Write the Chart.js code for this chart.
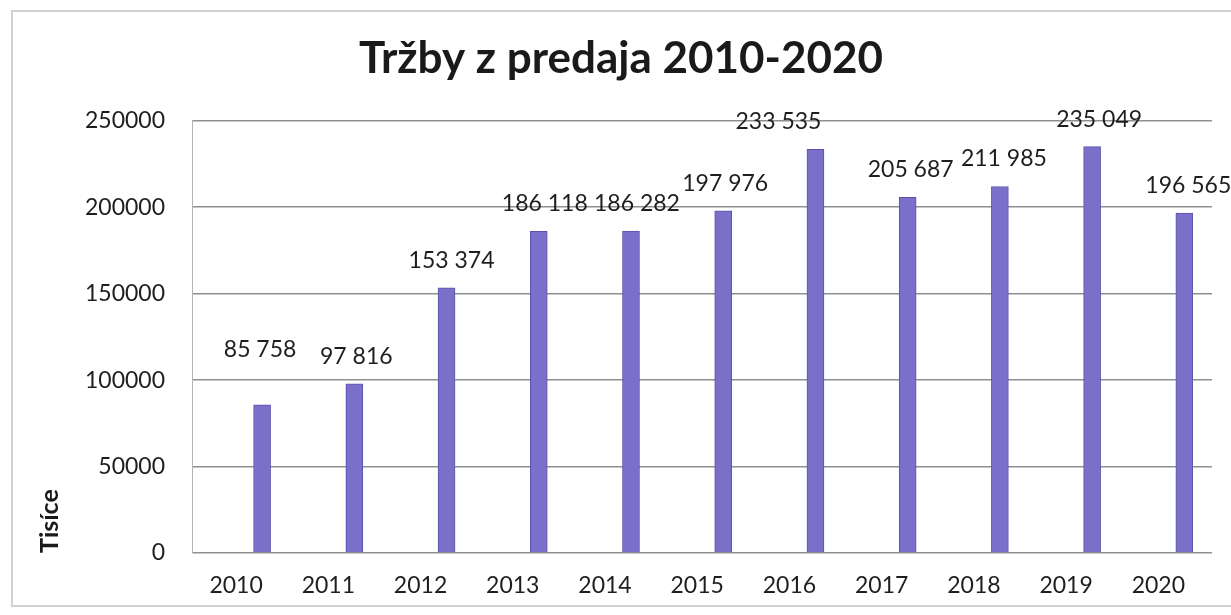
<!DOCTYPE html>
<html>
<head>
<meta charset="utf-8">
<script src="https://cdn.jsdelivr.net/npm/chart.js@4.4.1/dist/chart.umd.min.js"></script>
<style>
  html, body { margin: 0; padding: 0; background: #fff; }
  #wrap { position: relative; width: 1231px; height: 615px; overflow: hidden; }
  #frame { position: absolute; left: 11px; top: 10px; width: 1300px; height: 597px;
    border: 2px solid #d2d2d2; box-sizing: border-box; pointer-events: none; }
</style>
</head>
<body>
<div id="wrap">
  <canvas id="c" width="1231" height="615"></canvas>
  <div id="frame"></div>
</div>
<script>
// Tržby z predaja 2010-2020 (tisíce EUR)
const YEARS = [2010, 2011, 2012, 2013, 2014, 2015, 2016, 2017, 2018, 2019, 2020];
const SALES = [85758, 97816, 153374, 186118, 186282, 197976, 233535, 205687, 211985, 235049, 196565];
const Y_TICKS = [0, 50000, 100000, 150000, 200000, 250000];

// hand-moved labels in the original: pixel nudges [dx, dy]
const NUDGE = [[-2, -28], [2, 0], [5, 0], [6, 0], [6, 0], [2, 0], [-37, 0], [3, 0], [4, 0], [7, 0], [4, 0]];

const FONT = "Lato, 'Open Sans', sans-serif";
const fmt = (n) => String(n).replace(/\B(?=(\d{3})+(?!\d))/g, " ");

const valueLabels = {
  id: "valueLabels",
  afterDatasetsDraw(chart) {
    const { ctx } = chart;
    const meta = chart.getDatasetMeta(0);
    ctx.save();
    ctx.font = `23px ${FONT}`;
    ctx.fillStyle = "#1e1e1e";
    ctx.textAlign = "center";
    ctx.textBaseline = "bottom";
    meta.data.forEach((bar, i) => {
      const [dx, dy] = NUDGE[i];
      ctx.fillText(fmt(SALES[i]), bar.x + dx, bar.y - 16 + dy);
    });
    ctx.restore();
  },
};

new Chart(document.getElementById("c"), {
  type: "bar",
  data: {
    datasets: [{
      data: YEARS.map((y, i) => ({ x: y, y: SALES[i] })),
      backgroundColor: "#7a70c9",
      borderColor: "#5c52ae",
      borderWidth: 1,
      barThickness: 17,
    }],
  },
  options: {
    responsive: false,
    animation: false,
    layout: { padding: { left: 30, right: 19, top: 10, bottom: 15 } },
    plugins: {
      legend: { display: false },
      tooltip: { enabled: false },
      title: {
        display: true,
        text: "Tržby z predaja 2010-2020",
        color: "#1a1a1a",
        font: { family: FONT, size: 44, weight: "bold" },
        padding: { top: 22, bottom: 36 },
      },
    },
    scales: {
      x: {
        type: "linear",
        offset: false,
        min: 2009.24,
        max: 2020.3,
        afterBuildTicks: (s) => { s.ticks = YEARS.map((v) => ({ value: v })); },
        afterFit: (s) => { s.height = 47; },
        ticks: {
          color: "#1e1e1e",
          font: { family: FONT, size: 23 },
          padding: 19,
          labelOffset: -26,
          maxRotation: 0,
          callback: (v) => String(v),
        },
        grid: { display: false, drawTicks: false },
        border: { display: false },
      },
      y: {
        min: 0,
        max: 250000,
        afterBuildTicks: (s) => { s.ticks = Y_TICKS.map((v) => ({ value: v })); },
        afterFit: (s) => { s.width = 162; },
        ticks: {
          color: "#1e1e1e",
          font: { family: FONT, size: 23 },
          padding: 27,
          callback: (v) => String(v),
        },
        grid: { color: "#8f8f8f", lineWidth: 1.5, drawTicks: false },
        border: { display: true, color: "#b5b5b5", width: 1 },
        title: {
          display: true,
          text: "Tisíce",
          align: "start",
          color: "#1a1a1a",
          font: { family: FONT, size: 25, weight: "bold" },
          padding: { top: 5, bottom: 0 },
        },
      },
    },
  },
  plugins: [valueLabels],
});
</script>
</body>
</html>
